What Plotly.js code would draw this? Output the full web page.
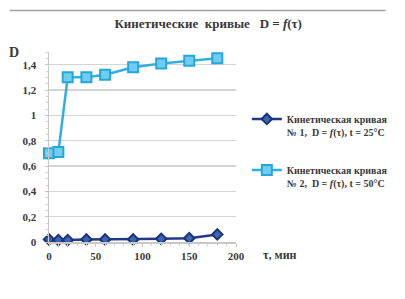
<!DOCTYPE html>
<html>
<head>
<meta charset="utf-8">
<script src="https://cdn.plot.ly/plotly-3.0.1.min.js"></script>
<style>html,body{margin:0;padding:0;background:#fff;}#chart{width:405px;height:299px;}</style>
</head>
<body>
<div id="chart"></div>
<script>
const timeMin = [0, 10, 20, 40, 60, 90, 120, 150, 180];
const curve1_25C = [0.02, 0.015, 0.015, 0.02, 0.02, 0.02, 0.025, 0.03, 0.06];
const curve2_50C = [0.70, 0.71, 1.30, 1.30, 1.32, 1.38, 1.41, 1.43, 1.45];
const name1 = 'Кинетическая кривая<br>№ 1,  D = <i>f</i>(τ), t = 25°C';
const name2 = 'Кинетическая кривая<br>№ 2,  D = <i>f</i>(τ), t = 50°C';
const yTicks = [0, 0.2, 0.4, 0.6, 0.8, 1, 1.2, 1.4];
const yTickText = ['0', '0,2', '0,4', '0,6', '0,8', '1', '1,2', '1,4'];
const xTicks = [0, 50, 100, 150, 200];

const font = {family: 'Liberation Serif, Times New Roman, serif', color: '#3a3a3a'};

const traces = [
  {x: timeMin, y: curve1_25C, name: name1, legendgroup: 'a', mode: 'lines+markers', cliponaxis: false,
   line: {color: '#1f3a86', width: 2.5},
   marker: {symbol: 'diamond', size: 8, color: '#3d66b0', line: {color: '#1a3478', width: 2}}},
  {x: timeMin, y: curve2_50C, name: name2, legendgroup: 'b', mode: 'lines+markers', cliponaxis: false,
   line: {color: '#2fb0e4', width: 2.5},
   marker: {symbol: 'square', size: 10, color: '#6fcdf2', line: {color: '#27a6dc', width: 2}}}
];

const layout = {
  width: 405, height: 299,
  margin: {l: 49, r: 156, t: 52, b: 57},
  paper_bgcolor: '#ffffff', plot_bgcolor: '#ffffff',
  font: Object.assign({size: 10}, font),
  title: {text: '<b>Кинетические  кривые   D = <i>f</i>(τ)</b>', font: Object.assign({}, font, {size: 13}),
          x: 0.514, xanchor: 'center', y: 0.92, yanchor: 'middle'},
  xaxis: {range: [0, 200], tickvals: xTicks, ticktext: xTicks.map(String), showgrid: false, zeroline: false,
          showline: true, linecolor: '#c8c8c8', linewidth: 1.5, ticks: 'outside', ticklen: 3, tickcolor: '#c8c8c8',
          minor: {dtick: 10, ticks: 'outside', ticklen: 2, tickcolor: '#d0d0d0', showgrid: false},
          tickfont: Object.assign({}, font, {size: 11, weight: 'bold'})},
  yaxis: {range: [0, 1.5], tickvals: yTicks, ticktext: yTickText, showgrid: true, gridcolor: '#d4d4d4', gridwidth: 1.5,
          zeroline: false, showline: true, linecolor: '#c8c8c8', linewidth: 1.5, ticks: 'outside', ticklen: 3, tickcolor: '#c8c8c8',
          ticklabelstandoff: 6,
          minor: {dtick: 0.05, ticks: 'outside', ticklen: 2, tickcolor: '#d0d0d0', showgrid: false},
          tickfont: Object.assign({}, font, {size: 11, weight: 'bold'})},
  legend: {x: 1.058, xanchor: 'left', y: 0.716, yanchor: 'top', valign: 'top', tracegroupgap: 22,
           bgcolor: 'rgba(0,0,0,0)', font: Object.assign({}, font, {size: 10, weight: 'bold'})},
  showlegend: true,
  annotations: [
    {text: '<b>D</b>', xref: 'paper', yref: 'paper', x: -0.185, y: 1.0, xanchor: 'center', yanchor: 'middle',
     showarrow: false, font: Object.assign({}, font, {size: 14})},
    {text: '<b>τ, мин</b>', xref: 'paper', yref: 'paper', x: 1.135, y: -0.067, xanchor: 'left', yanchor: 'middle',
     showarrow: false, font: Object.assign({}, font, {size: 12})}
  ],
  shapes: [
    {type: 'line', xref: 'paper', yref: 'paper', x0: -0.21, x1: 1.8, y0: 1.219, y1: 1.219,
     line: {color: '#a0a0a0', width: 1.5}}
  ]
};

Plotly.newPlot('chart', traces, layout, {displayModeBar: false, staticPlot: true});
</script>
</body>
</html>
